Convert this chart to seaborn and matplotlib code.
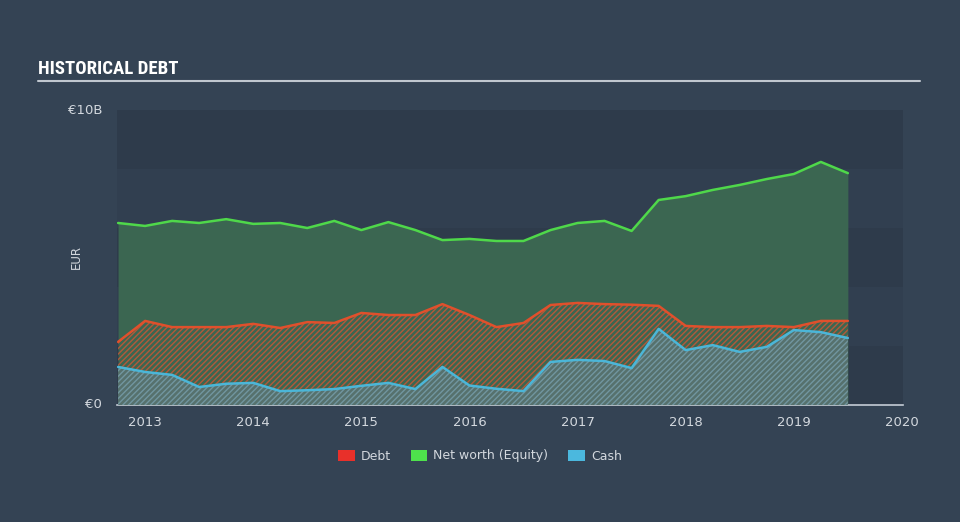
import numpy as np
import pandas as pd
import matplotlib
matplotlib.use("Agg")
import matplotlib.pyplot as plt
from matplotlib.patches import Patch
from matplotlib import font_manager
import seaborn as sns

# ---- data (EUR billions, quarterly) ----
dates = [2012.75, 2013.0, 2013.25, 2013.5, 2013.75, 2014.0, 2014.25, 2014.5, 2014.75,
         2015.0, 2015.25, 2015.5, 2015.75, 2016.0, 2016.25, 2016.5, 2016.75,
         2017.0, 2017.25, 2017.5, 2017.75, 2018.0, 2018.25, 2018.5, 2018.75,
         2019.0, 2019.25, 2019.5]
equity = [6.17, 6.07, 6.24, 6.17, 6.30, 6.14, 6.17, 6.00, 6.24,
          5.93, 6.20, 5.93, 5.59, 5.63, 5.56, 5.56, 5.93,
          6.17, 6.24, 5.90, 6.95, 7.08, 7.29, 7.46, 7.66,
          7.83, 8.24, 7.86]
debt = [2.14, 2.85, 2.64, 2.64, 2.64, 2.75, 2.61, 2.81, 2.78,
        3.12, 3.05, 3.05, 3.42, 3.05, 2.64, 2.78, 3.39,
        3.46, 3.42, 3.40, 3.36, 2.68, 2.64, 2.64, 2.68,
        2.64, 2.85, 2.85]
cash = [1.29, 1.12, 1.02, 0.61, 0.72, 0.75, 0.47, 0.50, 0.54,
        0.65, 0.75, 0.54, 1.29, 0.66, 0.55, 0.47, 1.46,
        1.53, 1.49, 1.25, 2.58, 1.86, 2.03, 1.80, 1.97,
        2.54, 2.47, 2.27]
year_ticks = [2013, 2014, 2015, 2016, 2017, 2018, 2019, 2020]
series_names = ["Debt", "Net worth (Equity)", "Cash"]

df = pd.DataFrame({"date": dates, "Debt": debt, "Net worth (Equity)": equity, "Cash": cash})
long = df.melt(id_vars="date", var_name="series", value_name="value")

FIG_BG = "#344354"
BAND_DARK = "#2e3b4b"
BAND_LIGHT = "#313f50"
TXT = "#d3d8de"
C_DEBT, C_EQ, C_CASH = "#e0502c", "#4fd84a", "#4bb6d8"

sns.set_style("white")
plt.rcParams["font.family"] = ["DejaVu Sans"]
plt.rcParams["hatch.linewidth"] = 1.0

available = {f.name for f in font_manager.fontManager.ttflist}
title_family, title_size = "DejaVu Sans", 10.5
for fam, size in [("Roboto Condensed", 13.5), ("Open Sans Condensed", 13.5),
                  ("Liberation Sans Narrow", 13.0), ("DejaVu Sans Condensed", 11.5)]:
    if fam in available:
        title_family, title_size = fam, size
        break

fig = plt.figure(figsize=(9.6, 5.22), dpi=100, facecolor=FIG_BG)
ax = fig.add_axes([117/960, 1-405/522, 786/960, 295/522])
ax.set_facecolor(BAND_DARK)

# background bands
for i in range(5):
    ax.axhspan(2*i, 2*i+2, color=BAND_DARK if i % 2 == 0 else BAND_LIGHT, lw=0, zorder=0)

x = np.array(dates)
ax.fill_between(x, 0, equity, color="#3b6651", lw=0, zorder=1)
ax.fill_between(x, 0, debt, facecolor="none", edgecolor="#b3593a", hatch="//////", lw=0, zorder=2)
ax.fill_between(x, 0, cash, facecolor="#56716d", edgecolor="#7196a0", hatch="//////", lw=0, zorder=3)

sns.lineplot(data=long, x="date", y="value", hue="series",
             palette={"Debt": C_DEBT, "Net worth (Equity)": C_EQ, "Cash": C_CASH},
             hue_order=["Net worth (Equity)", "Debt", "Cash"],
             linewidth=1.8, ax=ax, legend=False, zorder=4)

ax.set_xlim(2012.74, 2020.01)
ax.set_ylim(0, 10)
ax.set_xticks(year_ticks)
ax.set_xticklabels([str(y) for y in year_ticks])
ax.set_yticks([])
ax.set_xlabel("")
ax.set_ylabel("")
for s in ["top", "left", "right"]:
    ax.spines[s].set_visible(False)
ax.spines["bottom"].set_color("#c5ccd6")
ax.spines["bottom"].set_linewidth(1.2)
ax.tick_params(axis="x", colors="#c5ccd6", length=6, width=1, labelcolor=TXT, labelsize=9.5, pad=2)

# y labels
fig.text(103/960, 1-110/522, "€10B", color=TXT, fontsize=9.5, ha="right", va="center")
fig.text(102/960, 1-405/522, "€0", color=TXT, fontsize=9.5, ha="right", va="center")
fig.text(76/960, 1-257/522, "EUR", color=TXT, fontsize=8.5, ha="center", va="center", rotation=90)

# title
fig.text(38/960, 1-69/522, "HISTORICAL DEBT", color="white", fontsize=title_size, fontweight="bold",
         family=title_family, ha="left", va="center")
fig.add_artist(plt.Line2D([38/960, 920/960], [1-81/522, 1-81/522], color="#c0c7cf", lw=1.5))

handles = [Patch(facecolor=c, edgecolor="none") for c in ["#e8302a", "#4ee24c", "#4bb8de"]]
leg = fig.legend(handles, series_names, loc="center", bbox_to_anchor=(0.5, 1-456/522), ncol=3,
                 frameon=False, fontsize=9, handlelength=1.3, handleheight=1.0,
                 columnspacing=1.6, handletextpad=0.5)
for t in leg.get_texts():
    t.set_color(TXT)

fig.savefig("out.png", dpi=100, facecolor=FIG_BG)
